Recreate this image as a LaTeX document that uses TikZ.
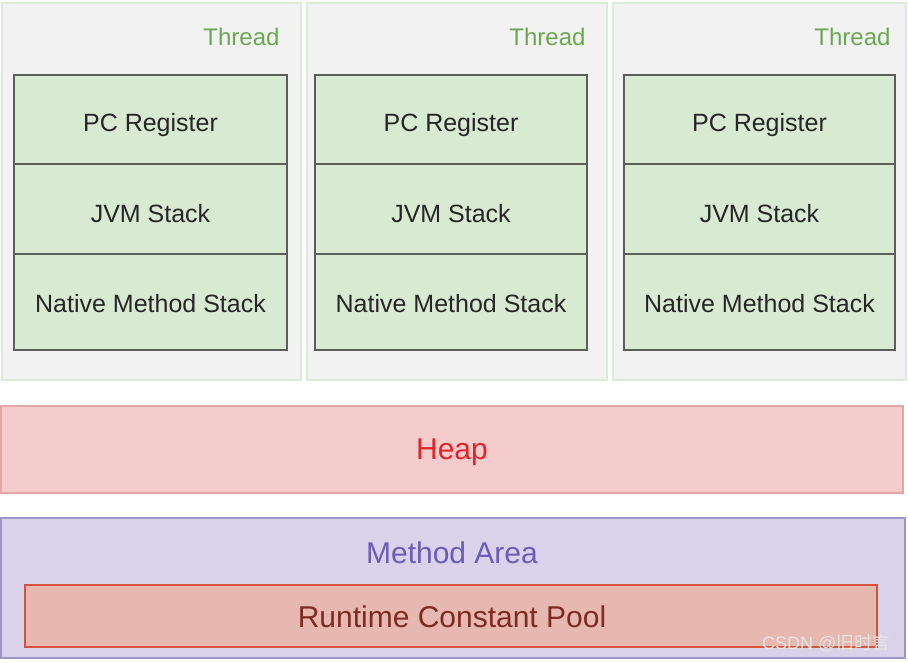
\documentclass[tikz,border=0pt]{standalone}
\usepackage{fontspec}
\setmainfont{Liberation Sans}
\newfontfamily\cjk{Noto Sans CJK SC}
\definecolor{panelfill}{HTML}{F2F2F3}
\definecolor{panelline}{HTML}{DCEBD6}
\definecolor{boxfill}{HTML}{D9EAD3}
\definecolor{boxline}{HTML}{5A5F5A}
\definecolor{threadtxt}{HTML}{6AA84F}
\definecolor{heapfill}{HTML}{F4CCCC}
\definecolor{heapline}{HTML}{E6A5A5}
\definecolor{heaptxt}{HTML}{E0242C}
\definecolor{mafill}{HTML}{D9D2E9}
\definecolor{maline}{HTML}{9E96CA}
\definecolor{matxt}{HTML}{6A5CB8}
\definecolor{rcpfill}{HTML}{E6B8AF}
\definecolor{rcpline}{HTML}{D5543A}
\definecolor{rcptxt}{HTML}{7F2A22}
\begin{document}
\begin{tikzpicture}[x=1pt,y=-1pt,
  panel/.style={draw=panelline,fill=panelfill,line width=1.5pt},
  membox/.style={draw=boxline,fill=boxfill,line width=2.2pt},
  memtxt/.style={font=\fontsize{25}{30}\selectfont,text=black!85},
  threadlbl/.style={text=threadtxt,font=\fontsize{24}{28}\selectfont,anchor=east},
  heapbox/.style={draw=heapline,fill=heapfill,line width=1.5pt},
  mabox/.style={draw=maline,fill=mafill,line width=2pt},
  rcpbox/.style={draw=rcpline,fill=rcpfill,line width=2.5pt}]
\useasboundingbox (0,0) rectangle (908,662);
\fill[white] (0,0) rectangle (908,662);
% thread panels
\draw[panel] (2,3) rectangle (301,380);
\draw[panel] (307,3) rectangle (607,380);
\draw[panel] (613,3) rectangle (906,380);
\node[threadlbl] (t1) at (283,37) {Thread};
\node[threadlbl] (t2) at (589,37) {Thread};
\node[threadlbl] (t3) at (894,37) {Thread};
% column 1
\draw[membox] (14,75) rectangle (287,164);
\draw[membox] (14,164) rectangle (287,254);
\draw[membox] (14,254) rectangle (287,350);
\node[memtxt] (pc1) at (150.5,125.5) {PC Register};
\node[memtxt] (jvm1) at (150.5,214) {JVM Stack};
\node[memtxt] (nms1) at (150.5,304) {Native Method Stack};
% column 2
\draw[membox] (315,75) rectangle (587,164);
\draw[membox] (315,164) rectangle (587,254);
\draw[membox] (315,254) rectangle (587,350);
\node[memtxt] (pc2) at (451,125.5) {PC Register};
\node[memtxt] (jvm2) at (451,214) {JVM Stack};
\node[memtxt] (nms2) at (451,304) {Native Method Stack};
% column 3
\draw[membox] (624,75) rectangle (895,164);
\draw[membox] (624,164) rectangle (895,254);
\draw[membox] (624,254) rectangle (895,350);
\node[memtxt] (pc3) at (759.5,125.5) {PC Register};
\node[memtxt] (jvm3) at (759.5,214) {JVM Stack};
\node[memtxt] (nms3) at (759.5,304) {Native Method Stack};
% heap
\draw[heapbox] (1,406) rectangle (903,493);
\node[text=heaptxt,font=\fontsize{30}{36}\selectfont] (heap) at (452,452) {Heap};
% method area
\draw[mabox] (1,518) rectangle (905,658);
\node[text=matxt,font=\fontsize{30}{36}\selectfont] (ma) at (452,553) {Method Area};
\draw[rcpbox] (25,585) rectangle (877,647);
\node[text=rcptxt,font=\fontsize{30}{36}\selectfont] (rcp) at (452,616.5) {Runtime Constant Pool};
% watermark text
\node[text=white!80!gray,font=\fontsize{18}{21}\selectfont,anchor=east] (wm) at (894,643) {CSDN @\cjk 旧时言};
\end{tikzpicture}
\end{document}
